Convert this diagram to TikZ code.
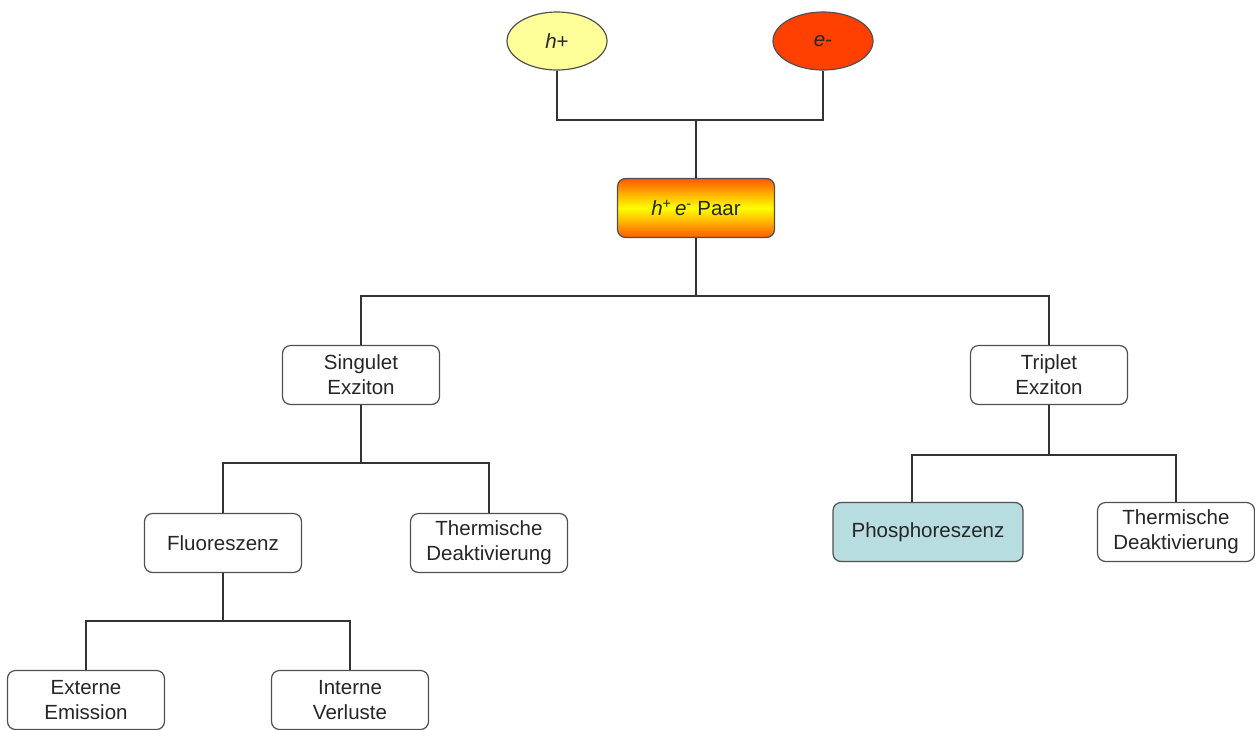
\documentclass[tikz,border=0pt]{standalone}
\usepackage{fontspec}
\setmainfont{Liberation Sans}
\usepackage{tikz}
\usetikzlibrary{shapes.geometric}
\usepackage{xcolor}

\definecolor{hellgelb}{HTML}{FFFF99}
\definecolor{elrot}{HTML}{FF4000}
\definecolor{paarrand}{HTML}{FF5A00}
\definecolor{phosblau}{HTML}{B7DDE0}
\definecolor{rand}{HTML}{505050}

\tikzset{
    kasten/.style={draw=rand, line width=1.2pt, rounded corners=8pt, fill=white,
        minimum width=157pt, minimum height=59pt, inner sep=0pt, align=center},
    teilchen/.style={ellipse, draw=rand, line width=1.2pt,
        minimum width=100pt, minimum height=58pt, inner sep=0pt},
    linie/.style={draw=black!80, line width=1.2pt}
}

\begin{document}
\begin{tikzpicture}[x=1pt, y=-1pt, font=\fontsize{20.5}{25}\selectfont, text=black!85]
    \useasboundingbox (0,0) rectangle (1255,729);

    % Ladungstraeger
    \node[teilchen, fill=hellgelb] (hp) at (557,41) {\textit{h}+};
    \node[teilchen, fill=elrot] (em) at (823,41) {\textit{e}-};

    % Paar
    \node[kasten, top color=paarrand, bottom color=paarrand, middle color=yellow]
        (paar) at (696,208) {\textit{h}\textsuperscript{+}\,\textit{e}\textsuperscript{-} Paar};

    % Exzitonen
    \node[kasten] (sing) at (361,375) {Singulet\\Exziton};
    \node[kasten] (trip) at (1049,375) {Triplet\\Exziton};

    % Singulet-Zweig
    \node[kasten] (fluo) at (223,543) {Fluoreszenz};
    \node[kasten] (thl) at (489,543) {Thermische\\Deaktivierung};
    \node[kasten] (ext) at (86,700) {Externe\\Emission};
    \node[kasten] (int) at (350,700) {Interne\\Verluste};

    % Triplet-Zweig
    \node[kasten, fill=phosblau, minimum width=190pt] (phos) at (928,532) {Phosphoreszenz};
    \node[kasten] (thr) at (1176,532) {Thermische\\Deaktivierung};

    % Verbindungen
    \coordinate (j1) at (696,120);
    \coordinate (j2) at (696,296);
    \coordinate (j3) at (361,463);
    \coordinate (j4) at (1049,455);
    \coordinate (j5) at (223,621);
    \draw[linie] (hp.south) |- (j1) -| (em.south);
    \draw[linie] (j1) -- (paar.north);
    \draw[linie] (paar.south) -- (j2);
    \draw[linie] (sing.north) |- (j2) -| (trip.north);
    \draw[linie] (sing.south) -- (j3);
    \draw[linie] (fluo.north) |- (j3) -| (thl.north);
    \draw[linie] (trip.south) -- (j4);
    \draw[linie] ([xshift=-16pt]phos.north) |- (j4) -| (thr.north);
    \draw[linie] (fluo.south) -- (j5);
    \draw[linie] (ext.north) |- (j5) -| (int.north);
\end{tikzpicture}
\end{document}
